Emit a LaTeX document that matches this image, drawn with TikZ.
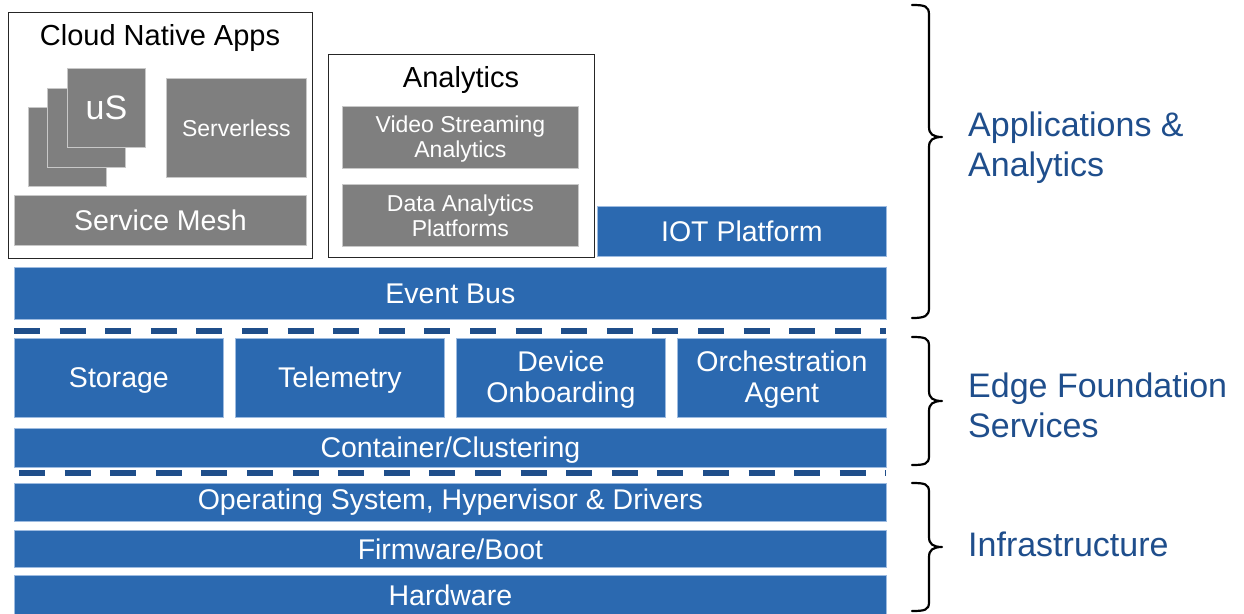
\documentclass[tikz,border=0pt]{standalone}
\usepackage{fontspec}
\setmainfont{Liberation Sans}
\definecolor{boxblue}{HTML}{2B69B0}
\definecolor{edgeblue}{HTML}{9DBBE0}
\definecolor{dashblue}{HTML}{1F4E8A}
\definecolor{boxgray}{HTML}{7F7F7F}
\definecolor{edgegray}{HTML}{C8C8C8}
\definecolor{labelblue}{HTML}{1F4E8C}
\newcommand{\upstrut}{\rule{0pt}{25pt}}
\tikzset{
  bluebox/.style={draw=edgeblue, line width=0.8pt, fill=boxblue, text=white, anchor=north west, inner sep=0pt, align=center, font=\fontsize{28.5}{31}\selectfont},
  graybox/.style={draw=edgegray, line width=0.8pt, fill=boxgray, text=white, anchor=north west, inner sep=0pt, align=center, font=\fontsize{23}{25}\selectfont},
  framebox/.style={draw=black!85, line width=1.3pt, fill=white, anchor=north west, inner sep=0pt},
  title/.style={text=black, font=\fontsize{29}{31}\selectfont},
  sidelabel/.style={text=labelblue, anchor=west, align=left, inner sep=0pt, font=\fontsize{34}{40}\selectfont},
  sep/.style={dashblue, line width=6pt, dash pattern=on 26pt off 19.6pt},
  bracket/.style={black, line width=2.2pt, line cap=round, line join=round}
}
\begin{document}
\begin{tikzpicture}[x=1pt,y=-1pt]
\useasboundingbox (0,0) rectangle (1244,613);
% Cloud Native Apps
\node[framebox, minimum width=304pt, minimum height=246pt] (cna) at (8,12) {};
\node[title] (cnat) at (160,38) {Cloud Native Apps};
\node[graybox, minimum width=78pt, minimum height=79pt] (us3) at (28,107) {};
\node[graybox, minimum width=78pt, minimum height=79pt] (us2) at (47,88) {};
\node[graybox, minimum width=78pt, minimum height=79pt, font=\fontsize{34}{36}\selectfont] (us1) at (67,68) {uS};
\node[graybox, minimum width=140pt, minimum height=99pt] (srv) at (166,78) {Serverless};
\node[graybox, minimum width=292pt, minimum height=50pt, font=\fontsize{28.5}{31}\selectfont] (mesh) at (14,195) {Service Mesh};
% Analytics
\node[framebox, minimum width=266pt, minimum height=203pt] (an) at (328,54) {};
\node[title] (ant) at (461,80) {Analytics};
\node[graybox, minimum width=236pt, minimum height=62pt] (vsa) at (342,106) {\rule{0pt}{19pt}Video Streaming\\Analytics};
\node[graybox, minimum width=236pt, minimum height=62pt] (dap) at (342,184) {Data Analytics\\Platforms};
% IOT
\node[bluebox, minimum width=289pt, minimum height=50pt] (iot) at (597,206) {IOT Platform};
\node[bluebox, minimum width=872pt, minimum height=52pt] (eb) at (14,267) {Event Bus};
% separator 1
\coordinate (s1a) at (14,331);
\coordinate (s1b) at (886,331);
\draw[sep] (s1a) -- (s1b);
% foundation services
\node[bluebox, minimum width=209pt, minimum height=79pt] (sto) at (14,338) {\upstrut Storage};
\node[bluebox, minimum width=209pt, minimum height=79pt] (tel) at (235,338) {\upstrut Telemetry};
\node[bluebox, minimum width=209pt, minimum height=79pt] (dev) at (456,338) {\upstrut Device\\Onboarding};
\node[bluebox, minimum width=209pt, minimum height=79pt] (orc) at (677,338) {\upstrut Orchestration\\Agent};
\node[bluebox, minimum width=872pt, minimum height=39pt] (cc) at (14,428) {\upstrut Container/Clustering};
% separator 2
\coordinate (s2a) at (19,473);
\coordinate (s2b) at (886,473);
\draw[sep] (s2a) -- (s2b);
% infrastructure
\node[bluebox, minimum width=872pt, minimum height=38pt] (os) at (14,483) {Operating System, Hypervisor \& Drivers};
\node[bluebox, minimum width=872pt, minimum height=37pt] (fw) at (14,530) {Firmware/Boot};
\node[bluebox, minimum width=872pt, minimum height=40pt] (hw) at (14,575) {Hardware};
% braces
\draw[bracket] (912,5) .. controls (925,5) and (929,6) .. (929,15) -- (929,127) .. controls (929,134) and (933,137) .. (942,137) .. controls (933,137) and (929,140) .. (929,147) -- (929,308) .. controls (929,316) and (925,318) .. (912,318);
\draw[bracket] (912,337) .. controls (925,337) and (929,338) .. (929,346) -- (929,391) .. controls (929,398) and (933,401) .. (942,401) .. controls (933,401) and (929,404) .. (929,411) -- (929,456) .. controls (929,464) and (925,465) .. (912,465);
\draw[bracket] (912,483) .. controls (925,483) and (929,484) .. (929,492) -- (929,537) .. controls (929,544) and (933,547) .. (942,547) .. controls (933,547) and (929,550) .. (929,557) -- (929,602) .. controls (929,610) and (925,611) .. (912,611);
% labels
\node[sidelabel] (lapp) at (968,148) {Applications \&\\Analytics};
\node[sidelabel] (ledge) at (968,405) {Edge Foundation\\Services};
\node[sidelabel] (linf) at (968,544) {Infrastructure};
\end{tikzpicture}
\end{document}
